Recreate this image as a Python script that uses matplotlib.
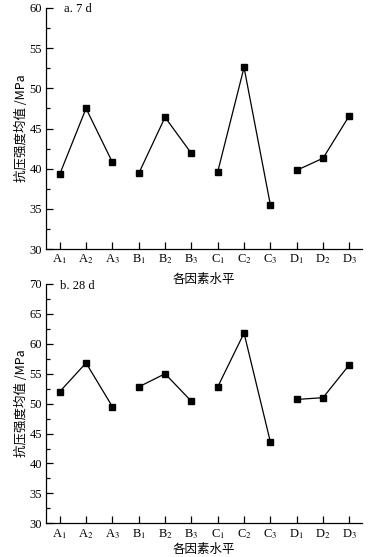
import numpy as np
import matplotlib as mpl
mpl.use('Agg')
import matplotlib.pyplot as plt
from matplotlib.ticker import MultipleLocator

plt.rcParams['font.family'] = ['Liberation Serif', 'Noto Sans CJK SC']
plt.rcParams['mathtext.fontset'] = 'stix'

factors = ['A', 'B', 'C', 'D']
levels = [1, 2, 3]
ticklabels = [r'%s$_{%d}$' % (f, l) for f in factors for l in levels]

# mean compressive strength, MPa
mean_7d = [39.3, 47.5, 40.8, 39.4, 46.4, 41.9, 39.6, 52.6, 35.5, 39.8, 41.3, 46.6]
mean_28d = [52.0, 56.8, 49.5, 52.8, 55.0, 50.4, 52.8, 61.8, 43.6, 50.7, 51.0, 56.5]

W, H = 369, 557
fig = plt.figure(figsize=(W/100, H/100), dpi=100)
cjk = ['Noto Sans CJK SC', 'Liberation Serif']


def panel(rect, vals, ylim, label, tx, ty, xpad):
    l, t, r, b = rect
    ax = fig.add_axes([l/W, 1 - b/H, (r - l)/W, (b - t)/H])
    x = np.arange(len(vals))
    for g in range(len(factors)):
        s = slice(3*g, 3*g + 3)
        ax.plot(x[s], vals[s], color='black', linewidth=0.9,
                marker='s', markersize=3.8)
    ax.set_xlim(-0.54, 11.48)
    ax.set_ylim(*ylim)
    ax.yaxis.set_major_locator(MultipleLocator(5))
    ax.yaxis.set_minor_locator(MultipleLocator(2.5))
    ax.set_xticks(x)
    ax.set_xticklabels(ticklabels)
    for s in ['top', 'right']:
        ax.spines[s].set_visible(False)
    for s in ['left', 'bottom']:
        ax.spines[s].set_linewidth(0.9)
    ax.tick_params(direction='in', which='major', length=5, width=0.9,
                   labelsize=9, pad=2.5)
    ax.tick_params(direction='in', which='minor', length=3, width=0.9)
    ax.tick_params(axis='x', which='minor', bottom=False)
    ax.set_ylabel('抗压强度均值 /MPa', fontsize=9, labelpad=1, family=cjk)
    ax.set_xlabel('各因素水平', fontsize=9, labelpad=xpad, family=cjk)
    ax.text(tx, ty, label, transform=ax.transAxes, fontsize=9,
            va='center', ha='left')
    return ax


panel((45.5, 8, 362, 249), mean_7d, (30, 60), 'a. 7 d', 0.058, 0.994, 4.5)
panel((45.5, 284, 362, 523.3), mean_28d, (30, 70), 'b. 28 d', 0.046, 0.992, 1.5)

fig.savefig('out.png', dpi=100)
